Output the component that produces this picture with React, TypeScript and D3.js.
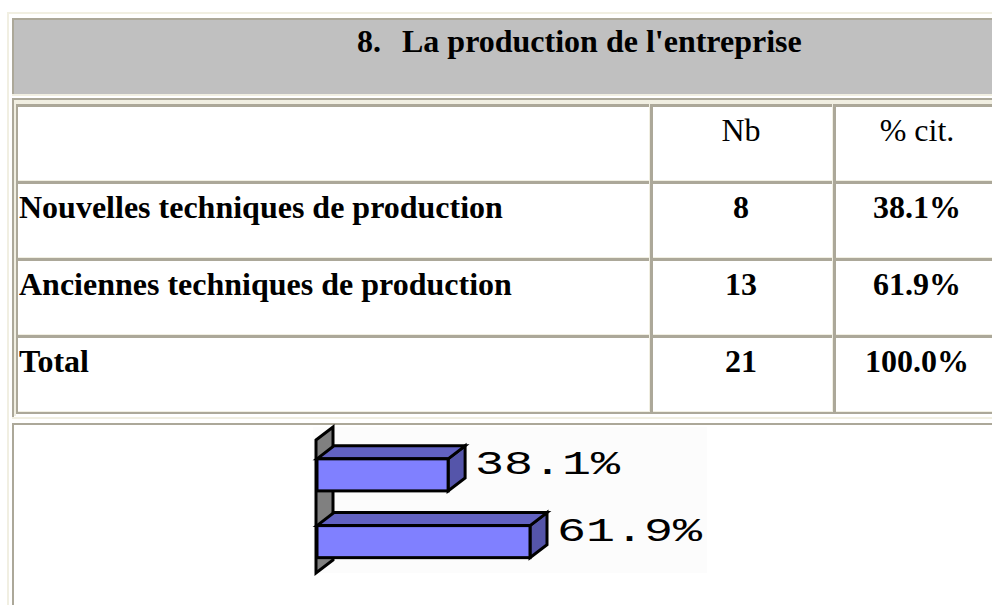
import React from "react";
import * as d3 from "d3";

// ---- data ----
const titleNumber = "8.";
const titleText = "La production de l'entreprise";
const columnHeaders = ["Nb", "% cit."];
const categories = [
  "Nouvelles techniques de production",
  "Anciennes techniques de production",
];
const counts = [8, 13];
const percents = [38.1, 61.9];
const totalLabel = "Total";
const totalCount = 21;
const totalPercent = 100.0;

// ---- styles ----
const W = 992;
const H = 605;
const LIGHT = "#F1EFE2";
const DARK = "#ACA899";
const HEADER_BG = "#C0C0C0";
const SERIF = "'Liberation Serif', 'Times New Roman', serif";
const FRONT = "#8080FF";
const TOP = "#6262C2";
const SIDE = "#5555AA";
const WALL = "#808080";

export default function App() {
  // ---- table layout ----
  const rowKeys = ["__header", ...categories, totalLabel];
  const rowScale = d3.scaleBand<string>().domain(rowKeys).range([103, 411]);
  const rowBounds = [...rowKeys.map((k) => rowScale(k) as number), 411];
  const colEdges = [15, 649, 832];
  const colCenters = [0, 741, 917];

  const tableRows = [
    { key: "__header", cells: ["", ...columnHeaders], bold: false },
    ...categories.map((c, i) => ({
      key: c,
      cells: [c, String(counts[i]), percents[i].toFixed(1) + "%"],
      bold: true,
    })),
    {
      key: totalLabel,
      cells: [totalLabel, String(totalCount), totalPercent.toFixed(1) + "%"],
      bold: true,
    },
  ];

  // ---- chart scales ----
  const x = d3
    .scaleLinear()
    .domain([0, d3.max(percents) as number])
    .range([317, 530]);
  const y = d3
    .scaleBand<string>()
    .domain(categories)
    .range([441.5, 575])
    .paddingInner(0.52)
    .paddingOuter(0.26);
  const dx = 17;
  const dy = 13;
  const bw = y.bandwidth();

  const wallPts: [number, number][] = [
    [316, 440],
    [316 + dx, 440 - dy],
    [316 + dx, 573 - dy],
    [316, 573],
  ];

  const poly = (pts: [number, number][]) => pts.map((p) => p.join(",")).join(" ");

  return (
    <svg
      width={W}
      height={H}
      viewBox={`0 0 ${W} ${H}`}
      style={{ position: "absolute", left: 0, top: 0, display: "block", background: "#FFFFFF" }}
    >
      <rect x={0} y={0} width={W} height={H} fill="#FFFFFF" />

      {/* outer frame */}
      <rect x={7} y={12} width={2} height={H - 12} fill={LIGHT} />
      <rect x={7} y={12} width={W - 7} height={2} fill={LIGHT} />

      {/* header cell */}
      <rect x={12} y={18} width={W - 12} height={78} fill={HEADER_BG} />
      <rect x={12} y={18} width={W - 12} height={2} fill={DARK} />
      <rect x={12} y={18} width={2} height={78} fill={DARK} />
      <rect x={12} y={94} width={W - 12} height={2} fill={LIGHT} />
      <text x={357} y={52} fontFamily={SERIF} fontWeight="bold" fontSize={32} fill="#000">
        {titleNumber}
      </text>
      <text x={402} y={52} fontFamily={SERIF} fontWeight="bold" fontSize={32} fill="#000">
        {titleText}
      </text>

      {/* data table frame */}
      <rect x={14} y={100} width={W - 14} height={4} fill={LIGHT} />
      <rect x={14} y={100} width={2} height={316} fill={LIGHT} />
      <rect x={12} y={98} width={W - 12} height={2} fill={DARK} />
      <rect x={12} y={98} width={2} height={319} fill={DARK} />
      <rect x={12} y={417} width={W - 12} height={2} fill={LIGHT} />

      {/* row separators */}
      {rowBounds.map((b, i) => (
        <g key={"r" + i}>
          <rect x={colEdges[0]} y={b} width={W - colEdges[0]} height={1} fill={LIGHT} />
          <rect x={colEdges[0] + 1} y={b + 1} width={W - colEdges[0] - 1} height={i === rowBounds.length - 1 ? 2 : 3} fill={DARK} />
        </g>
      ))}
      {/* column separators */}
      {colEdges.map((c, i) => (
        <g key={"c" + i}>
          <rect x={c} y={rowBounds[0] + 1} width={1} height={411 - rowBounds[0]} fill={LIGHT} />
          <rect x={c + 1} y={rowBounds[0] + 1} width={i === 0 ? 2 : 3} height={413 - rowBounds[0]} fill={DARK} />
        </g>
      ))}

      {/* table text */}
      {tableRows.map((r) => {
        const top = rowScale(r.key) as number;
        const base = top + 38;
        return (
          <g key={r.key}>
            {r.cells.map((t, j) =>
              t ? (
                <text
                  key={j}
                  x={j === 0 ? 19 : colCenters[j]}
                  y={base}
                  textAnchor={j === 0 ? "start" : "middle"}
                  fontFamily={SERIF}
                  fontWeight={r.bold ? "bold" : "normal"}
                  fontSize={32}
                  fill="#000"
                >
                  {t}
                </text>
              ) : null
            )}
          </g>
        );
      })}

      {/* chart table frame */}
      <rect x={12} y={423} width={W - 12} height={2} fill={DARK} />
      <rect x={12} y={423} width={2} height={H - 423} fill={DARK} />

      {/* chart image */}
      <rect x={313} y={427} width={394} height={146} fill="#FCFCFC" />
      <polygon points={poly(wallPts)} fill={WALL} stroke="#000" strokeWidth={3} strokeLinejoin="miter" />
      {categories.map((c, i) => {
        const x0 = x(0);
        const x1 = x(percents[i]);
        const y0 = y(c) as number;
        const y1 = y0 + bw;
        return (
          <g key={c}>
            <polygon
              points={poly([
                [x1, y0],
                [x1 + dx, y0 - dy],
                [x1 + dx, y1 - dy],
                [x1, y1],
              ])}
              fill={SIDE}
              stroke="#000"
              strokeWidth={3}
            />
            <polygon
              points={poly([
                [x0, y0],
                [x0 + dx, y0 - dy],
                [x1 + dx, y0 - dy],
                [x1, y0],
              ])}
              fill={TOP}
              stroke="#000"
              strokeWidth={3}
            />
            <rect x={x0} y={y0} width={x1 - x0} height={bw} fill={FRONT} stroke="#000" strokeWidth={3} />
            <text
              x={x1 + dx + 10}
              y={y0 - dy + 28}
              fontFamily="'Liberation Mono', 'DejaVu Sans Mono', monospace"
              fontSize={34}
              textLength={145}
              lengthAdjust="spacingAndGlyphs"
              fill="#000"
            >
              {percents[i].toFixed(1) + "%"}
            </text>
          </g>
        );
      })}
    </svg>
  );
}
